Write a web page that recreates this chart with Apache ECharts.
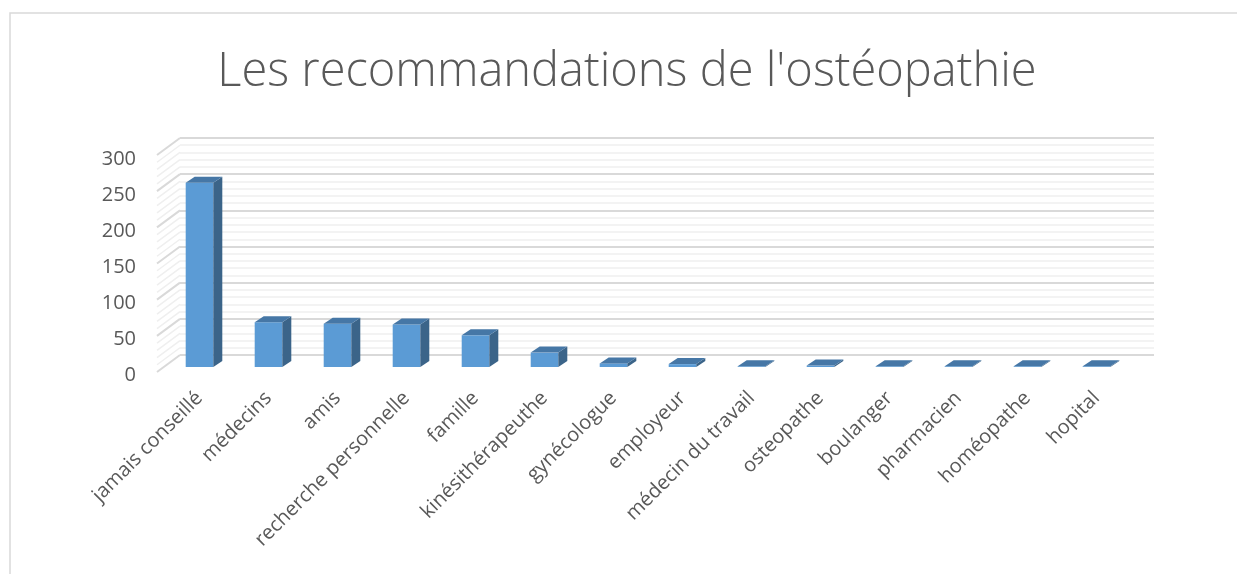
<!DOCTYPE html>
<html>
<head>
<meta charset="utf-8">
<script src="https://cdn.jsdelivr.net/npm/echarts@6/dist/echarts.min.js"></script>
<style>
html, body { margin: 0; padding: 0; background: #fff; }
#chart { width: 1237px; height: 574px; }
</style>
</head>
<body>
<div id="chart"></div>
<script>
var categories = ['jamais conseillé', 'médecins', 'amis', 'recherche personnelle', 'famille',
    'kinésithérapeuthe', 'gynécologue', 'employeur', 'médecin du travail', 'osteopathe',
    'boulanger', 'pharmacien', 'homéopathe', 'hopital'];
var values = [256, 62, 60, 59, 44, 20, 5, 4, 1, 2, 1, 1, 1, 1];
var yTicks = [0, 50, 100, 150, 200, 250, 300];

// depth of the fake 3d: wall and bars
var WALL_DX = 23, WALL_DY = -17;
var BAR_DX = 9, BAR_DY = -6;

// every gridline of the wall, major + minor (5 per major)
var wallLines = [];
for (var i = 0; i < yTicks.length; i++) {
    wallLines.push([0, yTicks[i], 1]);
    if (i < yTicks.length - 1) {
        var step = (yTicks[i + 1] - yTicks[i]) / 5;
        for (var k = 1; k < 5; k++) wallLines.push([0, yTicks[i] + k * step, 0]);
    }
}

var myChart = echarts.init(document.getElementById('chart'));
var textColor = '#595959';
var font = '"Open Sans", sans-serif';

option = {
    animation: false,
    title: {
        text: "Les recommandations de l'ostéopathie",
        left: 622,
        textAlign: 'center',
        top: 44,
        textStyle: { color: textColor, fontFamily: font, fontWeight: 300, fontSize: 47 }
    },
    graphic: [{
        type: 'rect',
        shape: { x: 10, y: 13, width: 1300, height: 700 },
        style: { fill: 'none', stroke: '#d9d9d9', lineWidth: 1.5 },
        z: -10
    }],
    grid: [
        // y labels
        { left: 157, right: 83, top: 159, bottom: 199 },
        // back wall
        { left: 180, right: 83, top: 138, bottom: 219 },
        // bars
        { left: 165, right: 106, top: 151, bottom: 207 }
    ],
    xAxis: [
        { gridIndex: 0, type: 'value', min: 0, max: 1, show: false },
        { gridIndex: 1, type: 'value', min: 0, max: 1, show: false },
        {
            gridIndex: 2, type: 'category', data: categories,
            axisLine: { show: false }, axisTick: { show: false },
            axisLabel: {
                rotate: 45, margin: 28, interval: 0,
                color: textColor, fontFamily: font, fontSize: 20
            }
        }
    ],
    yAxis: [
        {
            gridIndex: 0, type: 'value', min: 0, max: 300, interval: 50,
            axisLine: { show: false }, axisTick: { show: false }, splitLine: { show: false },
            axisLabel: { margin: 21, color: textColor, fontFamily: font, fontSize: 20 }
        },
        {
            gridIndex: 1, type: 'value', min: 0, max: 300, interval: 50,
            axisLine: { show: false }, axisTick: { show: false }, axisLabel: { show: false },
            splitLine: { lineStyle: { color: '#d9d9d9', width: 2 } },
            minorTick: { show: false, splitNumber: 5 },
            minorSplitLine: { show: true, lineStyle: { color: '#efefef', width: 1.5 } }
        },
        {
            gridIndex: 2, type: 'value', min: 0, max: 300, interval: 50, show: false
        }
    ],
    series: [
        {
            // side wall lines, from the back wall to the front edge
            type: 'custom',
            xAxisIndex: 1, yAxisIndex: 1,
            data: wallLines,
            silent: true,
            renderItem: function (params, api) {
                var p = api.coord([0, api.value(1)]);
                var major = api.value(2) === 1;
                return {
                    type: 'line',
                    shape: { x1: p[0], y1: p[1], x2: p[0] - WALL_DX, y2: p[1] - WALL_DY },
                    style: { stroke: major ? '#d9d9d9' : '#efefef', lineWidth: major ? 2 : 1.5 }
                };
            }
        },
        {
            type: 'custom',
            name: 'recommandations',
            xAxisIndex: 2, yAxisIndex: 2,
            data: values.map(function (v, i) { return [i, v]; }),
            renderItem: function (params, api) {
                var base = api.coord([api.value(0), 0]);
                var top = api.coord([api.value(0), api.value(1)]);
                var w = api.size([1, 0])[0] * 0.4;
                var xl = base[0] - w / 2, xr = base[0] + w / 2;
                var ty = top[1], by = base[1];
                return {
                    type: 'group',
                    children: [
                        {
                            type: 'rect',
                            shape: { x: xl, y: ty, width: w, height: by - ty },
                            style: { fill: '#5b9bd5' }
                        },
                        {
                            type: 'polygon',
                            shape: { points: [[xr, ty], [xr + BAR_DX, ty + BAR_DY], [xr + BAR_DX, by + BAR_DY], [xr, by]] },
                            style: { fill: '#3b6489' }
                        },
                        {
                            type: 'polygon',
                            shape: { points: [[xl, ty], [xr, ty], [xr + BAR_DX, ty + BAR_DY], [xl + BAR_DX, ty + BAR_DY]] },
                            style: { fill: '#4677a6' }
                        }
                    ]
                };
            }
        }
    ]
};
myChart.setOption(option);
</script>
</body>
</html>
